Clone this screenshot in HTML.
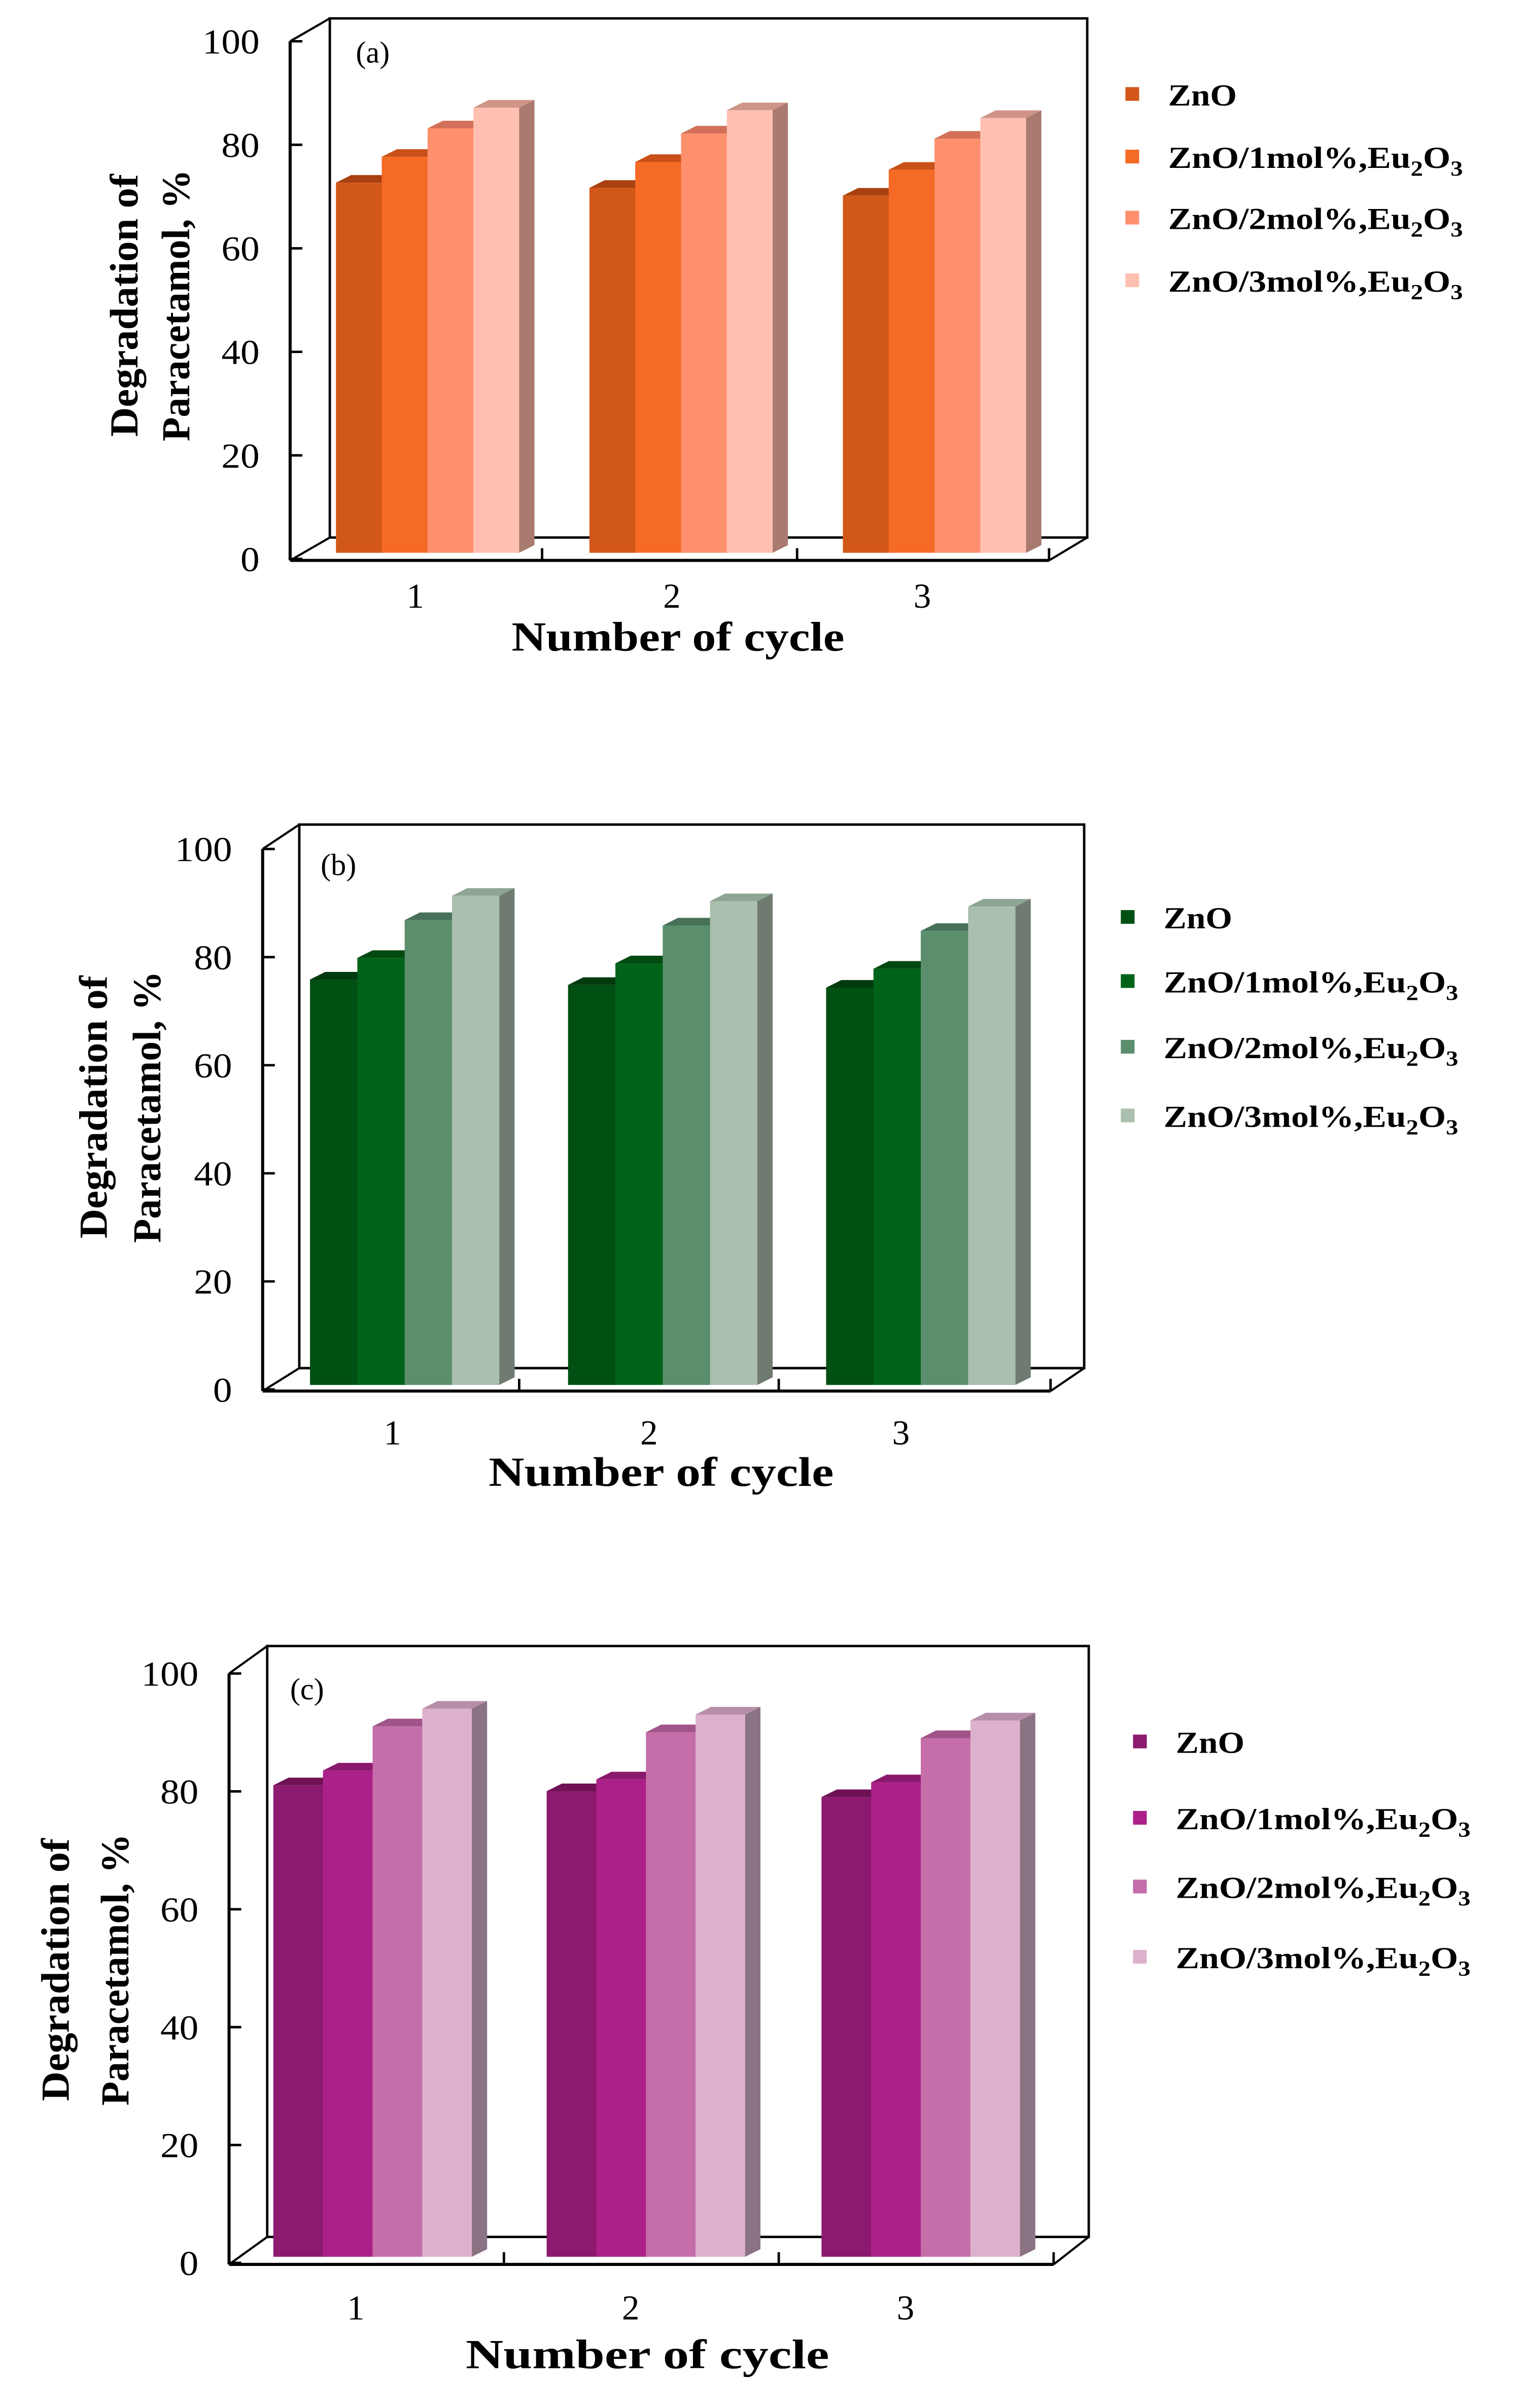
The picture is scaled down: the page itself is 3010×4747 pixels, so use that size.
<!DOCTYPE html>
<html><head><meta charset="utf-8"><style>
html,body{margin:0;padding:0;background:#fff;}
svg{display:block;}
text{font-family:"Liberation Serif",serif;}
</style></head>
<body>
<svg id="chart" width="3010" height="4747" viewBox="0 0 1000 1577" xmlns="http://www.w3.org/2000/svg"></svg>
<script>
const cycles = ["1","2","3"];
const seriesNames = ["ZnO","ZnO/1mol%,Eu","ZnO/2mol%,Eu","ZnO/3mol%,Eu"];
const yTicks = [0,20,40,60,80,100];
const valuesA = [[71.5,76.5,82,86],[70.5,75.5,81,85.5],[69,74,80,84]];
const valuesB = [[75,79,86,90.5],[74,78,85,89.5],[73.5,77,84,88.5]];
const valuesC = [[80,82.5,90,93],[79,81,89,92],[78,80.5,88,91]];

const NS="http://www.w3.org/2000/svg";
const svg=document.getElementById('chart');
function mk(tag,attrs,parent){const e=document.createElementNS(NS,tag);for(const k in attrs)e.setAttribute(k,attrs[k]);(parent||svg).appendChild(e);return e;}

const panels=[
 {id:'a',vals:valuesA,ax:190,y0:366,y100:27,bw:[216,12,712,352],base:367,right:687,groups:[220,386,552],barW:30,barBottom:362,
  ticksX:[355,522,687],lblX:[272,440,604],lblY:398,titleY:426,titleX:444,titleW:218,ytX:[90,124],ytY:200,
  legX:743,legY:[62,103,143,184],label:[233,41],
  colors:['#D2581A','#F56A25','#FF906E','#FFC0B2'],tops:['#A8400F','#C95018','#D4705A','#CF9488'],side:'#A87A70'},
 {id:'b',vals:valuesB,ax:172,y0:910,y100:556,bw:[196,540,710,896],base:911,right:688,groups:[203,372,541],barW:31,barBottom:907,
  ticksX:[340,510,688],lblX:[257,425,590],lblY:946,titleY:973,titleX:433,titleW:226,ytX:[70,105],ytY:725,
  legX:740,legY:[601,643,686,731],label:[210,573],
  colors:['#004F13','#006318','#5A8E6C','#AABFAD'],tops:['#003A0E','#004A12','#477159','#8FA593'],side:'#6F7A70'},
 {id:'c',vals:valuesC,ax:150,y0:1482,y100:1096,bw:[175,1078,713,1465],base:1483,right:690,groups:[179,358,538],barW:32.5,barBottom:1478,
  ticksX:[330,510,690],lblX:[233,413,593],lblY:1519,titleY:1551,titleX:424,titleW:238,ytX:[45,84],ytY:1290,
  legX:748,legY:[1141,1191,1236,1282],label:[190,1113],
  colors:['#8C1A6E','#AC2189','#C56EAA','#DDB1CE'],tops:['#6E1255','#8A186C','#A05489','#B78EA9'],side:'#8A7382'}
];

panels.forEach(p=>{
  const g=mk('g',{});
  
  
  const sc=(p.y0-p.y100)/100;
  const yv=v=>p.y0-v*sc;
  const [bx1,by1,bx2,by2]=p.bw;
  const wall=mk('polyline',{points:`${bx1},${by2} ${bx1},${by1} ${bx2},${by1} ${bx2},${by2} ${bx1},${by2}`,fill:'none',stroke:'#000','stroke-width':1.6},g);
  
  
  mk('line',{x1:p.ax,y1:p.base,x2:bx1,y2:by2,stroke:'#000','stroke-width':1.4},g);
  mk('line',{x1:p.right,y1:p.base,x2:bx2,y2:by2,stroke:'#000','stroke-width':1.4},g);
  mk('line',{x1:p.ax,y1:yv(100),x2:bx1,y2:by1,stroke:'#000','stroke-width':1.4},g);
  const yAxis=mk('line',{x1:p.ax,y1:yv(100),x2:p.ax,y2:p.base,stroke:'#000','stroke-width':2},g);
  
  
  yTicks.forEach(t=>{
    mk('line',{x1:p.ax,y1:yv(t),x2:p.ax+8,y2:yv(t),stroke:'#000','stroke-width':1.6},g);
    const s=String(t);
    const tl=mk('text',{x:p.ax-20,y:yv(t)+8,'text-anchor':'end','font-size':23,textLength:s.length*12.5,lengthAdjust:'spacingAndGlyphs'},g);
    tl.textContent=s;
    
    
  });
  p.vals.forEach((grp,gi)=>{
    grp.forEach((v,si)=>{
      const x=p.groups[gi]+si*p.barW, w=p.barW, yb=p.barBottom, yt=yb-v*sc;
      const bar=mk('rect',{x:x,y:yt,width:w+0.4,height:yb-yt,fill:p.colors[si]},g);
      
      
      mk('polygon',{points:`${x},${yt} ${x+10},${yt-5} ${x+w+10},${yt-5} ${x+w},${yt}`,fill:p.tops[si]},g);
      if(si===grp.length-1){
        mk('polygon',{points:`${x+w},${yt} ${x+w+10},${yt-5} ${x+w+10},${yb-5} ${x+w},${yb}`,fill:p.side},g);
      }
    });
  });
  const xAxis=mk('line',{x1:p.ax,y1:p.base,x2:p.right,y2:p.base,stroke:'#000','stroke-width':2},g);
  
  
  p.ticksX.forEach(tx=>mk('line',{x1:tx,y1:p.base,x2:tx,y2:p.base-8,stroke:'#000','stroke-width':1.6},g));
  cycles.forEach((c,i)=>{
    const t=mk('text',{x:p.lblX[i],y:p.lblY,'text-anchor':'middle','font-size':23},g);
    t.textContent=c;
    
    
  });
  const xt=mk('text',{x:p.titleX,y:p.titleY,'text-anchor':'middle','font-size':27,'font-weight':'bold',textLength:p.titleW,lengthAdjust:'spacingAndGlyphs'},g);
  xt.textContent='Number of cycle';
  
  
  const yt1=mk('text',{x:p.ytX[0],y:p.ytY,'text-anchor':'middle','font-size':26,'font-weight':'bold',textLength:172,lengthAdjust:'spacingAndGlyphs',transform:`rotate(-90 ${p.ytX[0]} ${p.ytY})`},g);
  yt1.textContent='Degradation of';
  
  
  const yt2=mk('text',{x:p.ytX[1],y:p.ytY,'text-anchor':'middle','font-size':26,'font-weight':'bold',textLength:178,lengthAdjust:'spacingAndGlyphs',transform:`rotate(-90 ${p.ytX[1]} ${p.ytY})`},g);
  yt2.textContent='Paracetamol, %';
  
  
  const pl=mk('text',{x:p.label[0],y:p.label[1],'font-size':20},g);
  pl.textContent='('+p.id+')';
  
  
  seriesNames.forEach((n,si)=>{
    const ly=p.legY[si];
    const sw=mk('rect',{x:p.legX-6,y:ly-5,width:9,height:9,fill:p.colors[si]},g);
    
    
    const attrs={x:p.legX+22,y:ly+7,'font-size':20,'font-weight':'bold',lengthAdjust:'spacingAndGlyphs'};
    attrs.textLength = si>0 ? 193 : 45;
    const t=mk('text',attrs,g);
    
    
    t.appendChild(document.createTextNode(n));
    if(si>0){
      const s1=mk('tspan',{dy:5,'font-size':14},t);s1.textContent='2';
      const s2=mk('tspan',{dy:-5},t);s2.textContent='O';
      const s3=mk('tspan',{dy:5,'font-size':14},t);s3.textContent='3';
    }
  });
});
</script>
</body></html>
